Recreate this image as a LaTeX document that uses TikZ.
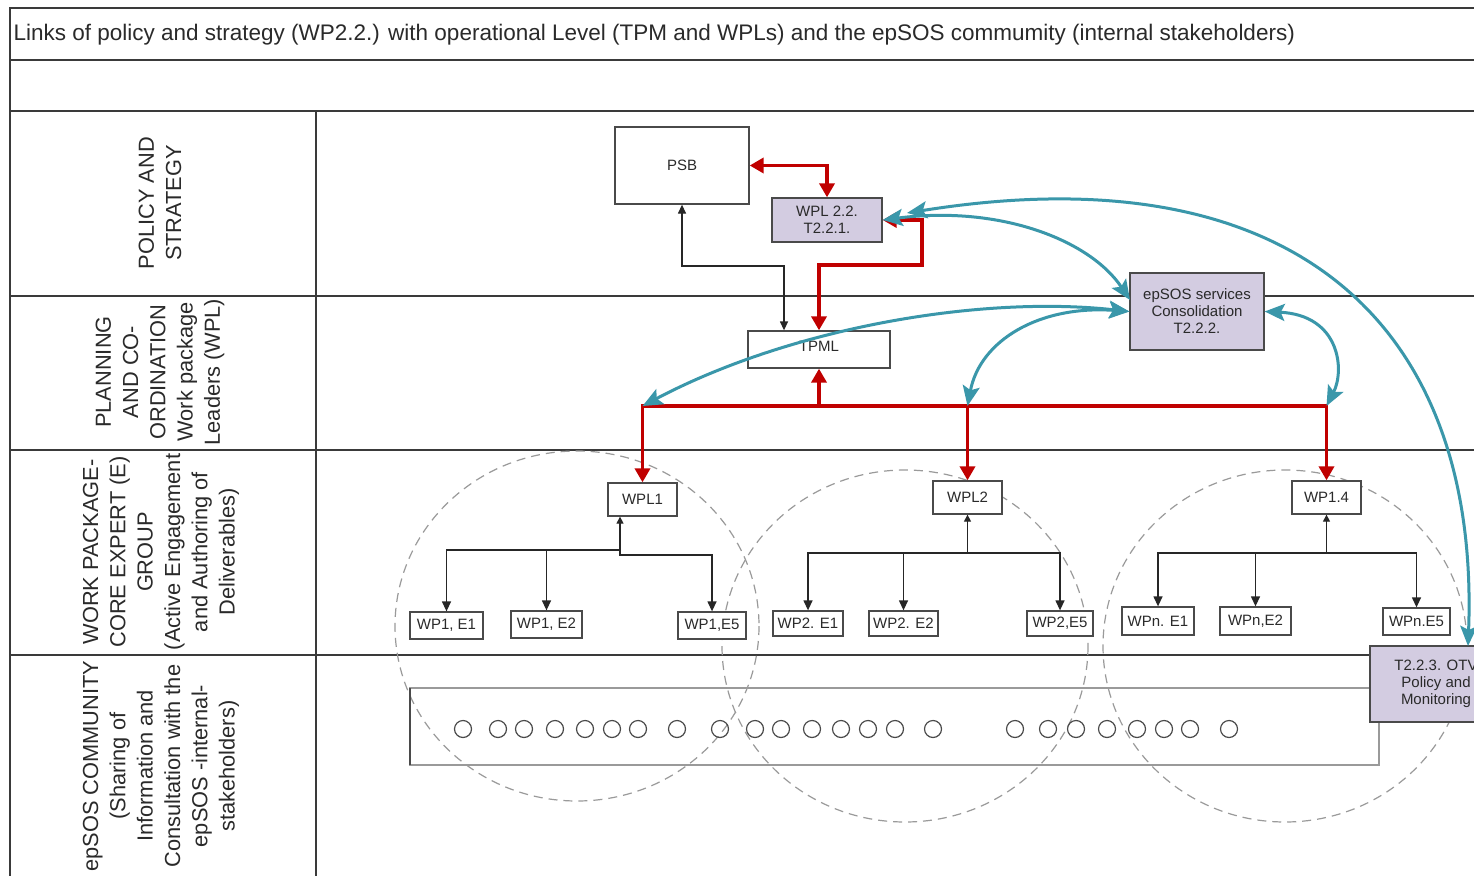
\documentclass[tikz,border=0pt]{standalone}
\usepackage{fontspec}
\setmainfont{Liberation Sans}
\usetikzlibrary{arrows.meta}
\definecolor{framec}{HTML}{3A3A3A}
\definecolor{boxc}{HTML}{4A4A4A}
\definecolor{txtc}{HTML}{2A2A2A}
\definecolor{lavc}{HTML}{D3CCE1}
\definecolor{tealc}{HTML}{3A97AA}
\definecolor{redc}{HTML}{C00000}
\definecolor{dashc}{HTML}{9A9A9A}
\tikzset{
  frameline/.style={draw=framec, line width=1.8pt},
  box/.style={draw=boxc, line width=1.3pt, fill=white, inner sep=0pt, text=txtc,
    align=center, font=\fontsize{15}{17}\selectfont},
  sbox/.style={box, font=\fontsize{15}{17}\selectfont},
  lbox/.style={box, fill=lavc},
  lane/.style={rotate=90, align=center, text=txtc, font=\fontsize{21.8}{27.3}\selectfont},
  tr/.style={draw=black!85, line width=1.3pt},
  rd/.style={draw=redc, line width=3.5pt},
  bl/.style={draw=tealc, line width=3pt},
  dcirc/.style={draw=dashc, line width=1.2pt, dash pattern=on 9pt off 6pt},
  scirc/.style={draw=boxc, line width=1.2pt},
}
\begin{document}
\begin{tikzpicture}[x=1pt, y=-1pt]
\useasboundingbox (0,0) rectangle (1474,875);
\clip (0,0) rectangle (1474,875);
\fill[white] (0,0) rectangle (1474,875);

% frame and lanes
\draw[frameline] (1480,8) -- (10,8) -- (10,880);
\draw[frameline] (10,60) -- (1480,60);
\draw[frameline] (10,111) -- (1480,111);
\draw[frameline] (10,296) -- (1480,296);
\draw[frameline] (10,450) -- (1480,450);
\draw[frameline] (10,655) -- (1480,655);
\draw[frameline] (316,111) -- (316,880);

\node[anchor=west, text=txtc, font=\fontsize{22.5}{26}\selectfont] (title) at (10,35)
  {Links of policy and strategy (WP2.2.) with operational Level (TPM and WPLs) and the epSOS commumity (internal stakeholders)};

\node[lane] (lane1) at (160,203) {POLICY AND\\STRATEGY};
\node[lane] (lane2) at (160,372) {PLANNING\\AND CO-\\ORDINATION\\Work package\\Leaders (WPL)};
\node[lane] (lane3) at (161,552) {WORK PACKAGE-\\CORE EXPERT (E)\\GROUP\\(Active Engagement\\and Authoring of\\Deliverables)};
\node[lane] (lane4) at (161,766) {epSOS COMMUNITY\\(Sharing of\\Information and\\Consultation with the\\epSOS -internal-\\stakeholders)};

% dashed group circles
\draw[dcirc] (577,626) ellipse [x radius=182, y radius=175];
\draw[dcirc] (905,646) ellipse [x radius=183, y radius=176];
\draw[dcirc] (1285,646) ellipse [x radius=182, y radius=176];

% community strip
\draw[draw=dashc, line width=1.5pt] (410,688) rectangle (1379,765);
\draw[draw=boxc, line width=1.5pt] (410,688) -- (410,765);
\foreach \cx in {463,498,524,555,585,612,638,677,720,755,781,812,841,868,895,933,1015,1048,1076,1107,1137,1164,1190,1229}
  \draw[scirc] (\cx,729) circle [radius=8.5];

% nodes
\node[box, minimum width=134pt, minimum height=77pt] (psb) at (682,165.5) {PSB};
\node[lbox, minimum width=110pt, minimum height=44pt] (w22) at (827,220) {WPL 2.2.\\T2.2.1.};
\node[lbox, minimum width=134pt, minimum height=77pt] (svc) at (1197,311.5) {epSOS services\\Consolidation\\T2.2.2.};
\node[box, minimum width=142pt, minimum height=37pt] (tpml) at (819,349.5) {\raisebox{7pt}{TPML}};
\node[sbox, minimum width=69pt, minimum height=33pt] (wpl1) at (642.5,499.5) {WPL1};
\node[sbox, minimum width=69pt, minimum height=33pt] (wpl2) at (967.5,497.5) {WPL2};
\node[sbox, minimum width=69pt, minimum height=33pt] (wpn) at (1326.5,497.5) {WP1.4};
\node[sbox, minimum width=73pt, minimum height=27pt] (e11) at (446.5,625.5) {WP1, E1};
\node[sbox, minimum width=71pt, minimum height=27pt] (e12) at (546.5,624.5) {WP1, E2};
\node[sbox, minimum width=68pt, minimum height=27pt] (e15) at (712,625.5) {WP1,E5};
\node[sbox, minimum width=70pt, minimum height=25pt] (e21) at (808,623.5) {WP2. E1};
\node[sbox, minimum width=69pt, minimum height=25pt] (e22) at (903.5,623.5) {WP2. E2};
\node[sbox, minimum width=66pt, minimum height=25pt] (e25) at (1060,623.5) {WP2,E5};
\node[sbox, minimum width=72pt, minimum height=28pt] (en1) at (1158,621) {WPn. E1};
\node[sbox, minimum width=71pt, minimum height=28pt] (en2) at (1255.5,621) {WPn,E2};
\node[sbox, minimum width=67pt, minimum height=27pt] (en5) at (1416.5,621.5) {WPn.E5};
\node[lbox, minimum width=132pt, minimum height=76pt] (otv) at (1436,684) {T2.2.3. OTV\\Policy and\\Monitoring};

% coordinates
\coordinate (k1) at (784,266);
\coordinate (r1) at (922,265);
\coordinate (rb) at (819,406);
\coordinate (t1) at (620,550);
\coordinate (t2) at (967.5,553);
\coordinate (t3) at (1326.5,553);
\coordinate (w22b) at (907,213);
\coordinate (svcA) at (1130,300);
\coordinate (otvin) at (1468,646);

% black tree connectors
\draw[tr, {Triangle[length=9pt,width=8pt]}-{Triangle[length=9pt,width=8pt]}] (psb.south) |- (k1) -- (k1 |- tpml.north);
\draw[tr, -{Triangle[length=7pt,width=7pt]}] (t1) -- (t1 |- wpl1.south);
\draw[tr, -{Triangle[length=10pt,width=9pt]}] (t1) -| (e11.north);
\draw[tr, -{Triangle[length=10pt,width=9pt]}] (t1) -| (e12.north);
\draw[tr, -{Triangle[length=10pt,width=9pt]}] (t1) -- ++(0,5) -| (e15.north);
\draw[tr, -{Triangle[length=7pt,width=7pt]}] (t2) -- (wpl2.south);
\draw[tr, -{Triangle[length=10pt,width=9pt]}] (t2) -| (e21.north);
\draw[tr, -{Triangle[length=10pt,width=9pt]}] (t2) -| (e22.north);
\draw[tr, -{Triangle[length=10pt,width=9pt]}] (t2) -| (e25.north);
\draw[tr, -{Triangle[length=7pt,width=7pt]}] (t3) -- (wpn.south);
\draw[tr, -{Triangle[length=10pt,width=9pt]}] (t3) -| (en1.north);
\draw[tr, -{Triangle[length=10pt,width=9pt]}] (t3) -| (en2.north);
\draw[tr, -{Triangle[length=10pt,width=9pt]}] (t3) -| (en5.north);

% red connectors
\draw[rd, {Triangle[length=14pt,width=15pt]}-{Triangle[length=14pt,width=15pt]}] (psb.east) -| (w22.north);
\draw[rd, {Triangle[length=14pt,width=15pt]}-{Triangle[length=14pt,width=15pt]}] (w22.east) -| (r1) -| (tpml.north);
\draw[rd, -{Triangle[length=14pt,width=15pt]}] (rb) -- (tpml.south);
\draw[rd, -{Triangle[length=14pt,width=15pt]}] (rb) -| (wpl1.north);
\draw[rd, -{Triangle[length=14pt,width=15pt]}] (rb) -| (wpn.north);
\draw[rd, -{Triangle[length=14pt,width=15pt]}] (wpl2.north |- rb) -- (wpl2.north);

% blue connectors
\draw[bl, {Stealth[length=20pt,width=17pt,inset=4pt]}-{Stealth[length=20pt,width=17pt,inset=4pt]}]
  (w22.east) .. controls (1000,205) and (1090,240) .. (svcA);
\draw[bl, {Stealth[length=20pt,width=17pt,inset=4pt]}-{Stealth[length=20pt,width=17pt,inset=4pt]}]
  (w22b) .. controls (1300,150) and (1480,330) .. (otvin);
\draw[bl, {Stealth[length=20pt,width=17pt,inset=4pt]}-{Stealth[length=20pt,width=17pt,inset=4pt]}]
  (svc.west) .. controls (980,295) and (790,328) .. (wpl1.north |- rb);
\draw[bl, {Stealth[length=20pt,width=17pt,inset=4pt]}-{Stealth[length=20pt,width=17pt,inset=4pt]}]
  (svc.west) .. controls (1040,305) and (980,340) .. (wpl2.north |- rb);
\draw[bl, {Stealth[length=20pt,width=17pt,inset=4pt]}-{Stealth[length=20pt,width=17pt,inset=4pt]}]
  (svc.east) .. controls (1340,315) and (1345,370) .. (wpn.north |- rb);
\end{tikzpicture}
\end{document}
